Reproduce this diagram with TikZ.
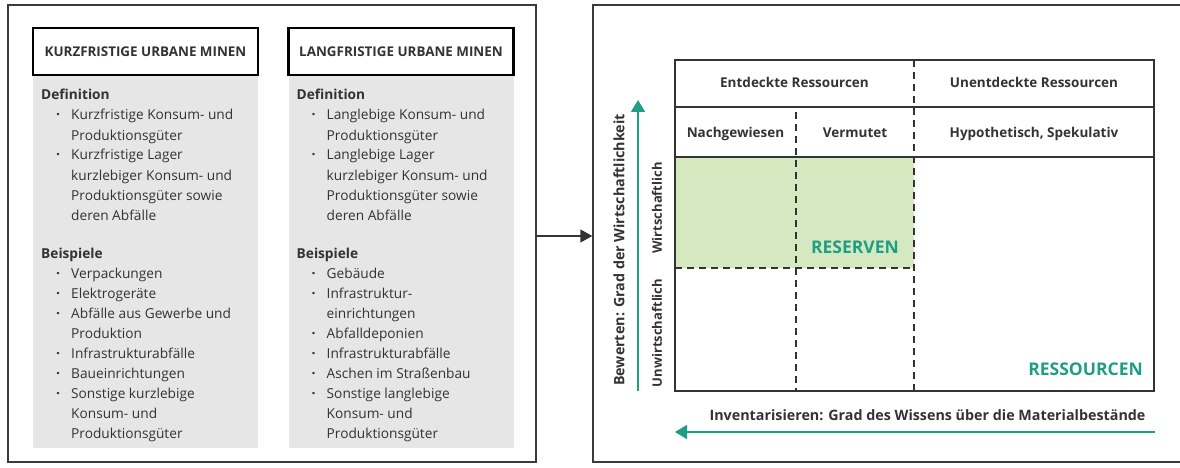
\documentclass[tikz,border=0pt]{standalone}
\usepackage{fontspec}
\setmainfont{Open Sans}
\usetikzlibrary{arrows.meta}
\definecolor{ink}{HTML}{333333}
\definecolor{frame}{HTML}{3A3A3A}
\definecolor{panelgray}{HTML}{E6E6E6}
\definecolor{teal}{HTML}{1F9E86}
\definecolor{reserve}{HTML}{D5E9C1}
\tikzset{
  panel/.style={draw=frame, line width=1.5pt, minimum width=#1, inner sep=0pt},
  headbox/.style={draw=black, line width=2.6pt, fill=white, minimum width=225pt, minimum height=47pt, inner sep=0pt,
                  font=\fontsize{13.4}{15}\selectfont\bfseries, text=ink},
  grayarea/.style={fill=panelgray, minimum width=225pt, minimum height=373pt, inner sep=0pt},
  item/.style={anchor=base west, inner sep=0pt, text=ink, font=\fontsize{13.7}{15}\selectfont},
  sect/.style={anchor=base west, inner sep=0pt, text=ink, font=\fontsize{13.7}{15}\selectfont\bfseries},
  dot/.style={anchor=base, inner sep=0pt, text=ink, font=\fontsize{14}{15}\selectfont\bfseries},
  cell/.style={anchor=base, inner sep=0pt, text=ink, font=\fontsize{13.5}{15}\selectfont\bfseries},
  axislabel/.style={inner sep=0pt, text=ink, font=\fontsize{14.3}{16}\selectfont\bfseries},
  rowlabel/.style={inner sep=0pt, text=ink, font=\fontsize{13}{15}\selectfont\bfseries, rotate=90},
  bigword/.style={inner sep=0pt, text=teal, font=\fontsize{17.5}{19}\selectfont\bfseries},
  gridline/.style={draw=ink, line width=1.8pt},
  dashline/.style={draw=ink, line width=2.8pt, dash pattern=on 7pt off 5pt},
  garrow/.style={draw=teal, line width=1.6pt, -{Triangle[width=14pt,length=12pt]}},
  karrow/.style={draw=ink, line width=1.6pt, -{Triangle[width=13pt,length=12pt]}},
}
\begin{document}
\begin{tikzpicture}[x=1pt,y=-1pt]
\useasboundingbox (0,0) rectangle (1180,468);

% ---- outer panels ----
\node[panel=528pt, minimum height=457pt] (lp) at (272,233.5) {};
\node[panel=600pt, minimum height=457pt] (rp) at (893,233.5) {};

% ---- column 1: short-term urban mines ----
\node[grayarea] (kg) at (145.5,261.5) {};
\node[headbox] (kh) at (145.5,51.5) {KURZFRISTIGE URBANE MINEN};
\node[sect] (kdef) at (41,100) {Definition};
\foreach \txt/\bul [count=\i] in {Kurzfristige Konsum- und/1, Produktionsgüter/0, Kurzfristige Lager/1,
    kurzlebiger Konsum- und/0, Produktionsgüter sowie/0, deren Abfälle/0} {
  \node[item] (ka\i) at (71,{100+20*\i}) {\txt};
  \ifnum\bul=1 \node[dot] (kad\i) at (58,{100+20*\i}) {·}; \fi
}
\node[sect] (kbsp) at (41,258) {Beispiele};
\foreach \txt/\bul [count=\i] in {Verpackungen/1, Elektrogeräte/1, Abfälle aus Gewerbe und/1, Produktion/0,
    Infrastrukturabfälle/1, Baueinrichtungen/1, Sonstige kurzlebige/1, Konsum- und/0, Produktionsgüter/0} {
  \node[item] (kb\i) at (71,{258+20*\i}) {\txt};
  \ifnum\bul=1 \node[dot] (kbd\i) at (58,{258+20*\i}) {·}; \fi
}

% ---- column 2: long-term urban mines ----
\node[grayarea] (lg) at (401,261.5) {};
\node[headbox] (lh) at (401,51.5) {LANGFRISTIGE URBANE MINEN};
\node[sect] (ldef) at (296.5,100) {Definition};
\foreach \txt/\bul [count=\i] in {Langlebige Konsum- und/1, Produktionsgüter/0, Langlebige Lager/1,
    kurzlebiger Konsum- und/0, Produktionsgüter sowie/0, deren Abfälle/0} {
  \node[item] (la\i) at (326.5,{100+20*\i}) {\txt};
  \ifnum\bul=1 \node[dot] (lad\i) at (313.5,{100+20*\i}) {·}; \fi
}
\node[sect] (lbsp) at (296.5,258) {Beispiele};
\foreach \txt/\bul [count=\i] in {Gebäude/1, Infrastruktur-/1, einrichtungen/0, Abfalldeponien/1,
    Infrastrukturabfälle/1, Aschen im Straßenbau/1, Sonstige langlebige/1, Konsum- und/0, Produktionsgüter/0} {
  \node[item] (lb\i) at (326.5,{258+20*\i}) {\txt};
  \ifnum\bul=1 \node[dot] (lbd\i) at (313.5,{258+20*\i}) {·}; \fi
}

% ---- link between the panels ----
\draw[karrow] (lp.east |- 0,236) -- (rp.west |- 0,236);

% ---- resource classification table ----
\fill[reserve] (675,157) rectangle (914,268);
\draw[gridline] (675,107) -- (1154,107);
\draw[gridline] (675,157) -- (1154,157);
\draw[dashline] (914,60) -- (914,391);
\draw[dashline] (796,112) -- (796,391);
\draw[dashline] (675,268) -- (914,268);
\node[draw=ink, line width=2.6pt, minimum width=479pt, minimum height=331pt, inner sep=0pt] (tbl) at (914.5,225.5) {};

\node[cell] (c1) at (794.5,88) {Entdeckte Ressourcen};
\node[cell] (c2) at (1034,88) {Unentdeckte Ressourcen};
\node[cell] (c3) at (735.5,138) {Nachgewiesen};
\node[cell] (c4) at (855,138) {Vermutet};
\node[cell] (c5) at (1034,138) {Hypothetisch, Spekulativ};

\node[bigword] (res) at (855,247) {RESERVEN};
\node[bigword, anchor=east] (ress) at (1143,369) {RESSOURCEN};

% ---- economic axis ----
\coordinate (vb) at (638,391);
\coordinate (vt) at (638,100);
\draw[garrow] (vb) -- (vt);
\node[axislabel, rotate=90] (vlab) at (619,250) {Bewerten: Grad der Wirtschaftlichkeit};
\node[rowlabel] (w1) at (657,208) {Wirtschaftlich};
\node[rowlabel] (w2) at (657,333) {Unwirtschaftlich};

% ---- knowledge axis ----
\coordinate (hr) at (1155,432);
\coordinate (hl) at (675,432);
\draw[garrow] (hr) -- (hl);
\node[axislabel, anchor=base] (hlab) at (927.5,420) {Inventarisieren: Grad des Wissens über die Materialbestände};
\end{tikzpicture}
\end{document}
